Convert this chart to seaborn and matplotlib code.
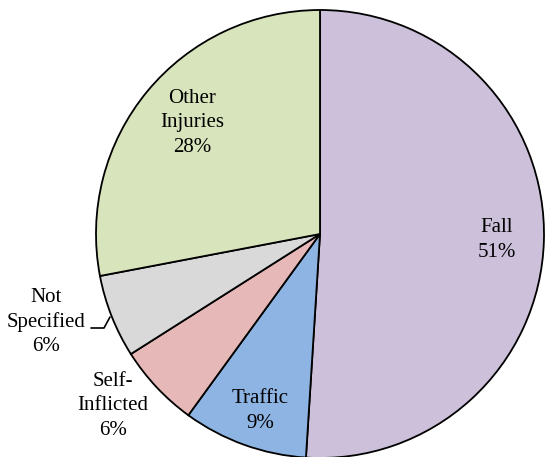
import matplotlib
matplotlib.use('Agg')
import matplotlib.pyplot as plt
import seaborn as sns

categories = ['Fall', 'Traffic', 'Self-\nInflicted', 'Not\nSpecified', 'Other\nInjuries']
values = [51, 9, 6, 6, 28]
colors = ['#CCC0DA', '#8DB4E2', '#E6B8B7', '#D9D9D9', '#D8E4BC']

sns.set_style('white')
plt.rcParams['font.family'] = ['Liberation Serif', 'DejaVu Serif']

W, H = 545, 457
fig = plt.figure(figsize=(W / 100, H / 100), dpi=100)
ax = fig.add_axes([0, 0, 1, 1])

cx, cy, r = 320, H - 234, 224
wedges, _ = ax.pie(values, colors=colors, startangle=90, counterclock=False,
                   center=(cx, cy), radius=r, frame=True,
                   wedgeprops=dict(edgecolor='black', linewidth=1.3))
ax.set_xlim(0, W)
ax.set_ylim(0, H)
ax.set_aspect('equal')
ax.axis('off')

# label positions (pixel coords from top-left)
label_pos = [(497, 240), (260, 411), (113, 406), (46, 322), (192, 123)]
for cat, v, (x, y) in zip(categories, values, label_pos):
    ax.text(x, H - y, '{}\n{}%'.format(cat, v), ha='center', va='center',
            fontsize=15, linespacing=1.38, color='black')

# leader line for "Not Specified"
ax.plot([110, 104, 91], [H - 317, H - 328, H - 328], color='black', lw=1.2)

plt.savefig('out.png', dpi=100)
plt.close()
